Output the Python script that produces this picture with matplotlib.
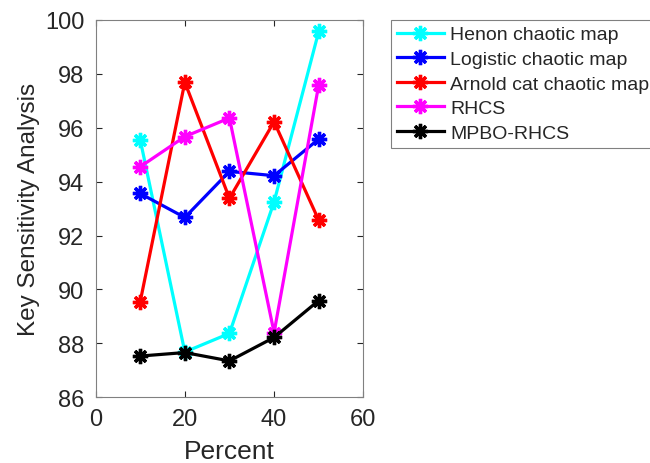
import matplotlib
matplotlib.use("Agg")
import matplotlib.pyplot as plt

plt.rcParams['font.family'] = ['Liberation Sans', 'DejaVu Sans']

percent = [10, 20, 30, 40, 50]
henon = [95.56, 87.68, 88.37, 93.25, 99.57]
logistic = [93.56, 92.67, 94.38, 94.22, 95.58]
arnold = [89.54, 97.69, 93.38, 96.22, 92.57]
rhcs = [94.55, 95.67, 96.36, 88.40, 97.59]
mpbo = [87.53, 87.66, 87.35, 88.22, 89.59]

series = [
    ("Henon chaotic map", henon, "#00FFFF"),
    ("Logistic chaotic map", logistic, "#0000FF"),
    ("Arnold cat chaotic map", arnold, "#FF0000"),
    ("RHCS", rhcs, "#FF00FF"),
    ("MPBO-RHCS", mpbo, "#000000"),
]

xticks = [0, 20, 40, 60]
yticks = [86, 88, 90, 92, 94, 96, 98, 100]

fig = plt.figure(figsize=(6.5, 4.64), dpi=100)
ax = fig.add_axes([0.147, 0.1416, 0.412, 0.8134])

for label, vals, col in series:
    ax.plot(percent, vals, color=col, linewidth=2.3, marker=(8, 2, 0),
            markersize=11, markeredgewidth=2.4, label=label)

ax.set_xlim(0, 60)
ax.set_ylim(86, 100)
ax.set_xticks(xticks)
ax.set_yticks(yticks)
tc = '#262626'
ax.tick_params(direction='in', top=True, right=True, labelsize=17,
               colors=tc, length=4, width=0.8)
ax.tick_params(axis='x', pad=8)
ax.tick_params(axis='y', pad=8)
for s in ax.spines.values():
    s.set_color('#808080')
    s.set_linewidth(0.8)
ax.set_xlabel("Percent", fontsize=19, color=tc, labelpad=6)
ax.set_ylabel("Key Sensitivity Analysis", fontsize=17.5, color=tc, labelpad=4)

leg = ax.legend(loc='upper left', bbox_to_anchor=(391/650, 1 - 21/464),
                bbox_transform=fig.transFigure, fontsize=14,
                handlelength=2.4, handletextpad=0.35, borderpad=0.3,
                labelspacing=0.36, borderaxespad=0, fancybox=False,
                framealpha=1, edgecolor='#808080')
leg.get_frame().set_linewidth(0.8)
for t in leg.get_texts():
    t.set_color(tc)

fig.savefig("out.png", dpi=100)
